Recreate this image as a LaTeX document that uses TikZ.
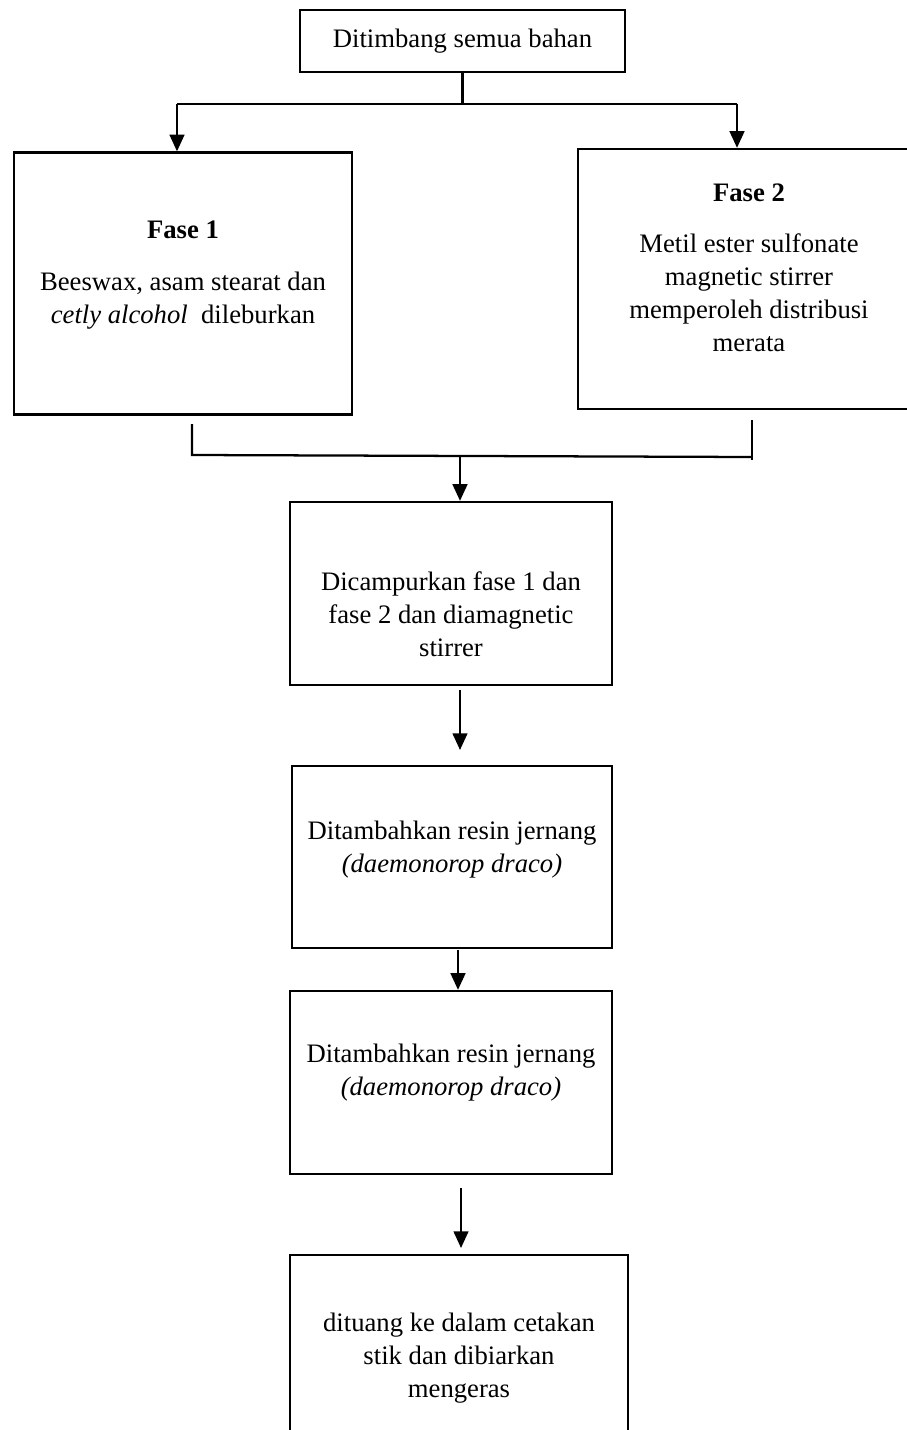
\documentclass[tikz,border=0pt]{standalone}
\usepackage{fontspec}
\setmainfont{Liberation Serif}
\usetikzlibrary{arrows.meta}
\begin{document}
\begin{tikzpicture}[x=0.75pt,y=-0.75pt,
  box/.style={draw,line width=1.7pt,rectangle,inner sep=0pt},
  txt/.style={align=center,inner sep=0pt,font=\fontsize{20}{24.75}\selectfont},
  conn/.style={line width=1.7pt},
  arr/.style={line width=1.7pt,-{Triangle[width=11pt,length=12.5pt]}}]
\useasboundingbox (0,0) rectangle (906,1430);
% boxes
\node[box,minimum width=243.75pt,minimum height=46.5pt] (top) at (462.5,41) {};
\node[box,minimum width=253.5pt,minimum height=196.5pt] (f1) at (183,283.5) {};
\node[box,minimum width=261pt,minimum height=195pt] (f2) at (752,279) {};
\node[box,minimum width=241.5pt,minimum height=137.25pt] (b3) at (451,593.5) {};
\node[box,minimum width=240pt,minimum height=136.5pt] (b4) at (452,857) {};
\node[box,minimum width=241.5pt,minimum height=137.25pt] (b5) at (451,1082.5) {};
\node[box,minimum width=253.5pt,minimum height=150pt] (b6) at (459,1355) {};
% texts
\node[txt] (t0) at (462.5,41) {Ditimbang semua bahan};
\node[txt] (t1h) at (183,230) {\textbf{Fase 1}};
\node[txt] (t1) at (183,300.5) {Beeswax, asam stearat dan\\\textit{cetly alcohol}\ \ dileburkan};
\node[txt] (t2h) at (749,193) {\textbf{Fase 2}};
\node[txt] (t2) at (749,292.5) {Metil ester sulfonate\\magnetic stirrer\\memperoleh distribusi\\merata};
\node[txt] (t3) at (451,614) {Dicampurkan fase 1 dan\\fase 2 dan diamagnetic\\stirrer};
\node[txt] (t4) at (452,849.5) {Ditambahkan resin jernang\\\textit{(daemonorop draco)}};
\node[txt] (t5) at (451,1072.5) {Ditambahkan resin jernang\\\textit{(daemonorop draco)}};
\node[txt] (t6) at (459,1358) {dituang ke dalam cetakan\\stik dan dibiarkan\\mengeras};
% connectors
\coordinate (s1) at (462.5,104);
\coordinate (l1) at (177,104);
\coordinate (r1) at (737,104);
\draw[conn] (top.south) -- (s1);
\draw[conn] (l1) -- (r1);
\draw[arr] (l1) -- (l1 |- f1.north);
\draw[arr] (r1) -- (r1 |- f2.north);
\coordinate (bl0) at (192,424);
\coordinate (bl1) at (192,455);
\coordinate (br0) at (752,420);
\coordinate (br1) at (752,460);
\coordinate (bm) at (460,455);
\draw[conn] (bl0) -- (bl1) -- (752,457);
\draw[conn] (br0) -- (br1);
\draw[arr] (bm) -- (bm |- b3.north);
\coordinate (a3) at (460,690);
\draw[arr] (a3) -- (460,750);
\coordinate (a4) at (458,950);
\draw[arr] (a4) -- (a4 |- b5.north);
\coordinate (a5) at (461,1188);
\draw[arr] (a5) -- (461,1248);
\end{tikzpicture}
\end{document}
